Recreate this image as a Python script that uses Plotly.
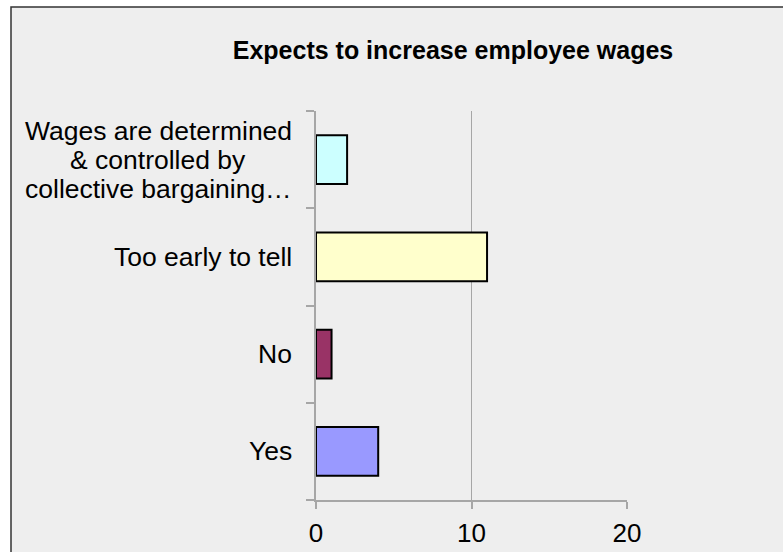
import plotly.graph_objects as go

# Survey responses, bottom to top as drawn
categories = ["Yes", "No", "Too early to tell", "Wages are determined & controlled by collective bargaining…"]
label_lines = [["Yes"], ["No"], ["Too early to tell"],
               ["Wages are determined", "& controlled by", "collective bargaining…"]]
counts = [4, 1, 11, 2]
bar_colors = ["#9999ff", "#993366", "#ffffcc", "#ccffff"]
x_ticks = [0, 10, 20]

W, H = 783, 552
ml, mr, mt, mb = 316, 156, 111, 52
pw, ph = W - ml - mr, H - mt - mb

fig = go.Figure(
    go.Bar(
        x=counts,
        y=categories,
        orientation="h",
        marker=dict(color=bar_colors, line=dict(color="#000000", width=2)),
        hoverinfo="x+y",
    )
)

font_family = "Liberation Sans, Arial, sans-serif"
label_size = 26.5
line_step = 29

# Category labels: single lines sit right-aligned against the axis;
# wrapped labels are centred line by line
for cat, lines in zip(categories, label_lines):
    n = len(lines)
    if n == 1:
        fig.add_annotation(
            x=0, xref="paper", y=cat, yref="y",
            text=lines[0], showarrow=False,
            xanchor="right", yanchor="middle", xshift=-22,
            font=dict(family=font_family, size=label_size, color="#000000"),
        )
    else:
        for i, ln in enumerate(lines):
            fig.add_annotation(
                x=0, xref="paper", y=cat, yref="y",
                text=ln, showarrow=False,
                xanchor="center", yanchor="middle",
                xshift=-22 - 136,
                yshift=((n - 1) / 2 - i) * line_step,
                font=dict(family=font_family, size=label_size, color="#000000"),
            )

# Chart panel: light grey with a dark frame (extends past the right/bottom edges)
fig.add_shape(
    type="rect", xref="paper", yref="paper", layer="below",
    x0=(11 - ml) / pw, x1=(W + 20 - ml) / pw,
    y0=-(H + 20 - mt - ph) / ph, y1=1 + (mt - 7) / ph,
    fillcolor="#eeeeee", line=dict(color="#333333", width=1.5),
)

fig.update_layout(
    width=W, height=H,
    margin=dict(l=ml, r=mr, t=mt, b=mb, autoexpand=False),
    paper_bgcolor="#ffffff",
    plot_bgcolor="rgba(0,0,0,0)",
    bargap=0.5,
    showlegend=False,
    font=dict(family=font_family, size=25, color="#000000"),
    title=dict(
        text="<b>Expects to increase employee wages</b>",
        x=453 / W, xref="container", xanchor="center",
        y=1 - 50 / H, yref="container", yanchor="middle",
        font=dict(family=font_family, size=25, color="#000000"),
    ),
    xaxis=dict(
        range=[0, 20], tickvals=x_ticks,
        showgrid=True, gridcolor="#a6a6a6", gridwidth=1,
        showline=True, linecolor="#a6a6a6", linewidth=2,
        ticks="outside", ticklen=7, tickcolor="#a6a6a6", tickwidth=2,
        zeroline=False, automargin=False,
        tickfont=dict(family=font_family, size=26, color="#000000"),
        ticklabelstandoff=2,
    ),
    yaxis=dict(
        categoryorder="array", categoryarray=categories,
        showticklabels=False,
        showgrid=False, automargin=False,
        showline=True, linecolor="#a6a6a6", linewidth=2,
        ticks="outside", ticklen=8, tickcolor="#a6a6a6", tickwidth=2,
        tickson="boundaries",
        zeroline=False,
    ),
)

fig.write_html("out.html")
